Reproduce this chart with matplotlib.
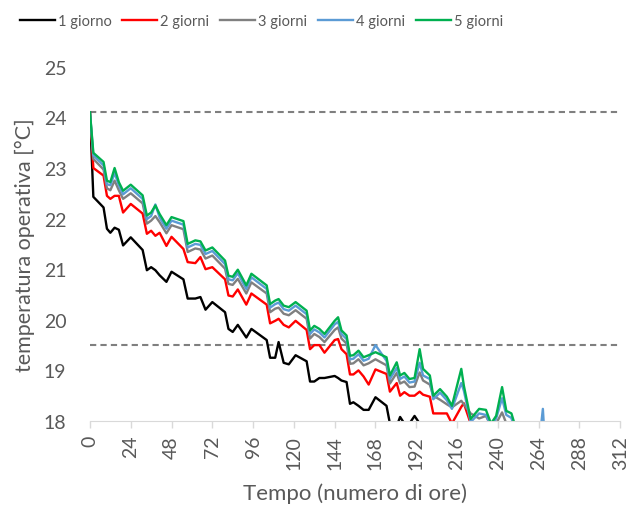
from matplotlib import pyplot as plt

## DATA
# hours at which values were read off the chart
HOURS = [0, 2, 8, 10, 12, 14.5, 17, 19.5, 24, 31, 33.5, 36, 38.5, 41, 45, 48,
         55, 57.5, 62, 65, 68, 72, 79.5, 81.5, 84, 87, 92, 95, 104, 106, 109,
         111, 114, 117, 121, 127.5, 129.5, 132, 135, 138, 144, 146, 148, 151,
         153, 155, 158, 161, 164, 168, 174.5, 176.5, 180.5, 182.5, 185, 188,
         191, 194, 196, 200, 202, 206, 210, 213, 218.5, 220, 224, 229, 233,
         236, 239, 242.5, 245, 248, 252, 258, 264, 266.5, 268, 272]

T_1_GIORNO = [24.1, 22.43, 22.22, 21.8, 21.72, 21.82, 21.78, 21.47, 21.63, 21.38,
              20.98, 21.04, 20.98, 20.88, 20.75, 20.95, 20.8, 20.42, 20.42, 20.45,
              20.2, 20.35, 20.15, 19.82, 19.76, 19.9, 19.65, 19.82, 19.6, 19.25,
              19.25, 19.56, 19.15, 19.12, 19.3, 19.18, 18.78, 18.78, 18.85, 18.85,
              18.89, 18.85, 18.8, 18.77, 18.34, 18.37, 18.3, 18.22, 18.22, 18.47,
              18.3, 17.95, 17.9, 18.08, 17.95, 17.95, 18.1, 17.95, 17.8, 17.7,
              17.7, 17.6, 17.5, 17.5, 17.4, 17.4, 17.3, 17.3, 17.2, 17.2,
              17.1, 17.1, 17.0, 17.0, 16.9, 16.8, 16.7, 16.7, 16.6, 16.6]

T_2_GIORNI = [24.1, 23.0, 22.85, 22.45, 22.39, 22.45, 22.45, 22.12, 22.29, 22.1,
              21.7, 21.76, 21.66, 21.72, 21.46, 21.64, 21.4, 21.14, 21.12, 21.24,
              21.0, 21.04, 20.8, 20.48, 20.46, 20.6, 20.3, 20.52, 20.3, 19.93,
              19.98, 20.02, 19.9, 19.85, 19.98, 19.8, 19.42, 19.5, 19.5, 19.35,
              19.6, 19.62, 19.42, 19.32, 18.92, 18.92, 19.0, 18.88, 18.72, 19.02,
              18.93, 18.58, 18.75, 18.5, 18.57, 18.5, 18.5, 18.58, 18.52, 18.48,
              18.15, 18.15, 18.15, 17.95, 18.28, 18.35, 17.95, 17.85, 17.8, 17.7,
              17.7, 17.85, 17.7, 17.6, 17.5, 17.4, 17.3, 17.35, 17.25, 17.2]

T_3_GIORNI = [24.1, 23.18, 22.97, 22.6, 22.56, 22.75, 22.56, 22.39, 22.5, 22.3,
              21.9, 21.96, 22.05, 21.93, 21.71, 21.87, 21.79, 21.34, 21.41, 21.39,
              21.21, 21.27, 21.01, 20.71, 20.69, 20.81, 20.52, 20.74, 20.52, 20.15,
              20.22, 20.24, 20.12, 20.09, 20.19, 20.02, 19.63, 19.72, 19.66, 19.56,
              19.8, 19.85, 19.63, 19.53, 19.13, 19.14, 19.22, 19.1, 19.14, 19.22,
              19.1, 18.74, 18.95, 18.74, 18.78, 18.67, 18.68, 18.96, 18.8, 18.72,
              18.5, 18.42, 18.33, 18.27, 18.4, 18.33, 18.15, 18.05, 18.1, 17.9,
              17.95, 18.17, 17.95, 17.85, 17.6, 17.5, 17.4, 17.5, 17.35, 17.25]

T_4_GIORNI = [24.1, 23.25, 23.05, 22.68, 22.66, 22.9, 22.66, 22.48, 22.6, 22.39,
              21.99, 22.05, 22.28, 22.02, 21.8, 21.96, 21.88, 21.43, 21.5, 21.48,
              21.3, 21.36, 21.1, 20.8, 20.78, 20.92, 20.61, 20.84, 20.61, 20.24,
              20.31, 20.34, 20.21, 20.18, 20.28, 20.11, 19.72, 19.81, 19.75, 19.65,
              19.91, 19.96, 19.72, 19.62, 19.22, 19.23, 19.32, 19.19, 19.23, 19.5,
              19.19, 18.83, 19.05, 18.83, 18.88, 18.76, 18.78, 19.15, 18.9, 18.83,
              18.43, 18.56, 18.41, 18.24, 18.75, 18.6, 17.98, 18.15, 18.12, 17.9,
              18.05, 18.45, 18.12, 18.06, 17.6, 17.5, 17.45, 18.24, 17.4, 17.3]

T_5_GIORNI = [24.1, 23.3, 23.12, 22.75, 22.72, 23.0, 22.72, 22.55, 22.67, 22.46,
              22.06, 22.12, 22.26, 22.09, 21.87, 22.03, 21.95, 21.5, 21.57, 21.55,
              21.37, 21.43, 21.17, 20.87, 20.85, 20.99, 20.68, 20.91, 20.68, 20.31,
              20.38, 20.41, 20.28, 20.25, 20.35, 20.18, 19.79, 19.88, 19.82, 19.72,
              19.98, 20.05, 19.79, 19.69, 19.29, 19.3, 19.39, 19.26, 19.3, 19.36,
              19.26, 18.9, 19.16, 18.9, 18.95, 18.83, 18.85, 19.42, 19.03, 18.9,
              18.5, 18.63, 18.48, 18.3, 19.03, 18.7, 18.04, 18.24, 18.22, 17.95,
              18.1, 18.67, 18.2, 18.15, 17.7, 17.6, 17.5, 17.7, 17.4, 17.3]

SERIES = [("1 giorno", T_1_GIORNO, "#000000"),
          ("2 giorni", T_2_GIORNI, "#ff0000"),
          ("3 giorni", T_3_GIORNI, "#808080"),
          ("4 giorni", T_4_GIORNI, "#5b9bd5"),
          ("5 giorni", T_5_GIORNI, "#00b050")]

LIMITS = [24.1, 19.5]
X_TICKS = list(range(0, 313, 24))
Y_TICKS = list(range(18, 26))

TEXT = "#595959"

## PLOT
plt.rcParams['font.family'] = ['Lato', 'DejaVu Sans']

fig = plt.figure(figsize=(6.29, 5.06), dpi=100)
ax = fig.add_axes([0.143, 0.166, 0.843, 0.700])

for lim in LIMITS:
    ax.axhline(lim, color="#7f7f7f", linestyle=(0, (3, 2)), linewidth=1.5, zorder=1)

for name, temps, colour in SERIES:
    ax.plot(HOURS, temps, color=colour, linewidth=1.7, label=name, zorder=2)

ax.set_xlim(0, 312)
ax.set_ylim(18, 25)
ax.set_xticks(X_TICKS)
ax.set_yticks(Y_TICKS)
ax.tick_params(axis='x', labelrotation=90, colors="#d9d9d9", labelcolor=TEXT,
               labelsize=14, length=5, width=1, pad=5)
ax.tick_params(axis='y', length=0, labelcolor=TEXT, labelsize=14, pad=17)

for side in ["top", "right", "left"]:
    ax.spines[side].set_visible(False)
ax.spines["bottom"].set_color("#d9d9d9")

ax.set_xlabel("Tempo (numero di ore)", color=TEXT, fontsize=16, labelpad=10)
ax.set_ylabel("temperatura operativa [°C]", color=TEXT, fontsize=15.5, labelpad=6)

fig.legend(loc="center", bbox_to_anchor=(0.416, 0.957), ncol=5, frameon=False,
           fontsize=10.5, labelcolor=TEXT, handlelength=2.4, handletextpad=0.2,
           columnspacing=0.75)

fig.savefig("out.png", dpi=100)
